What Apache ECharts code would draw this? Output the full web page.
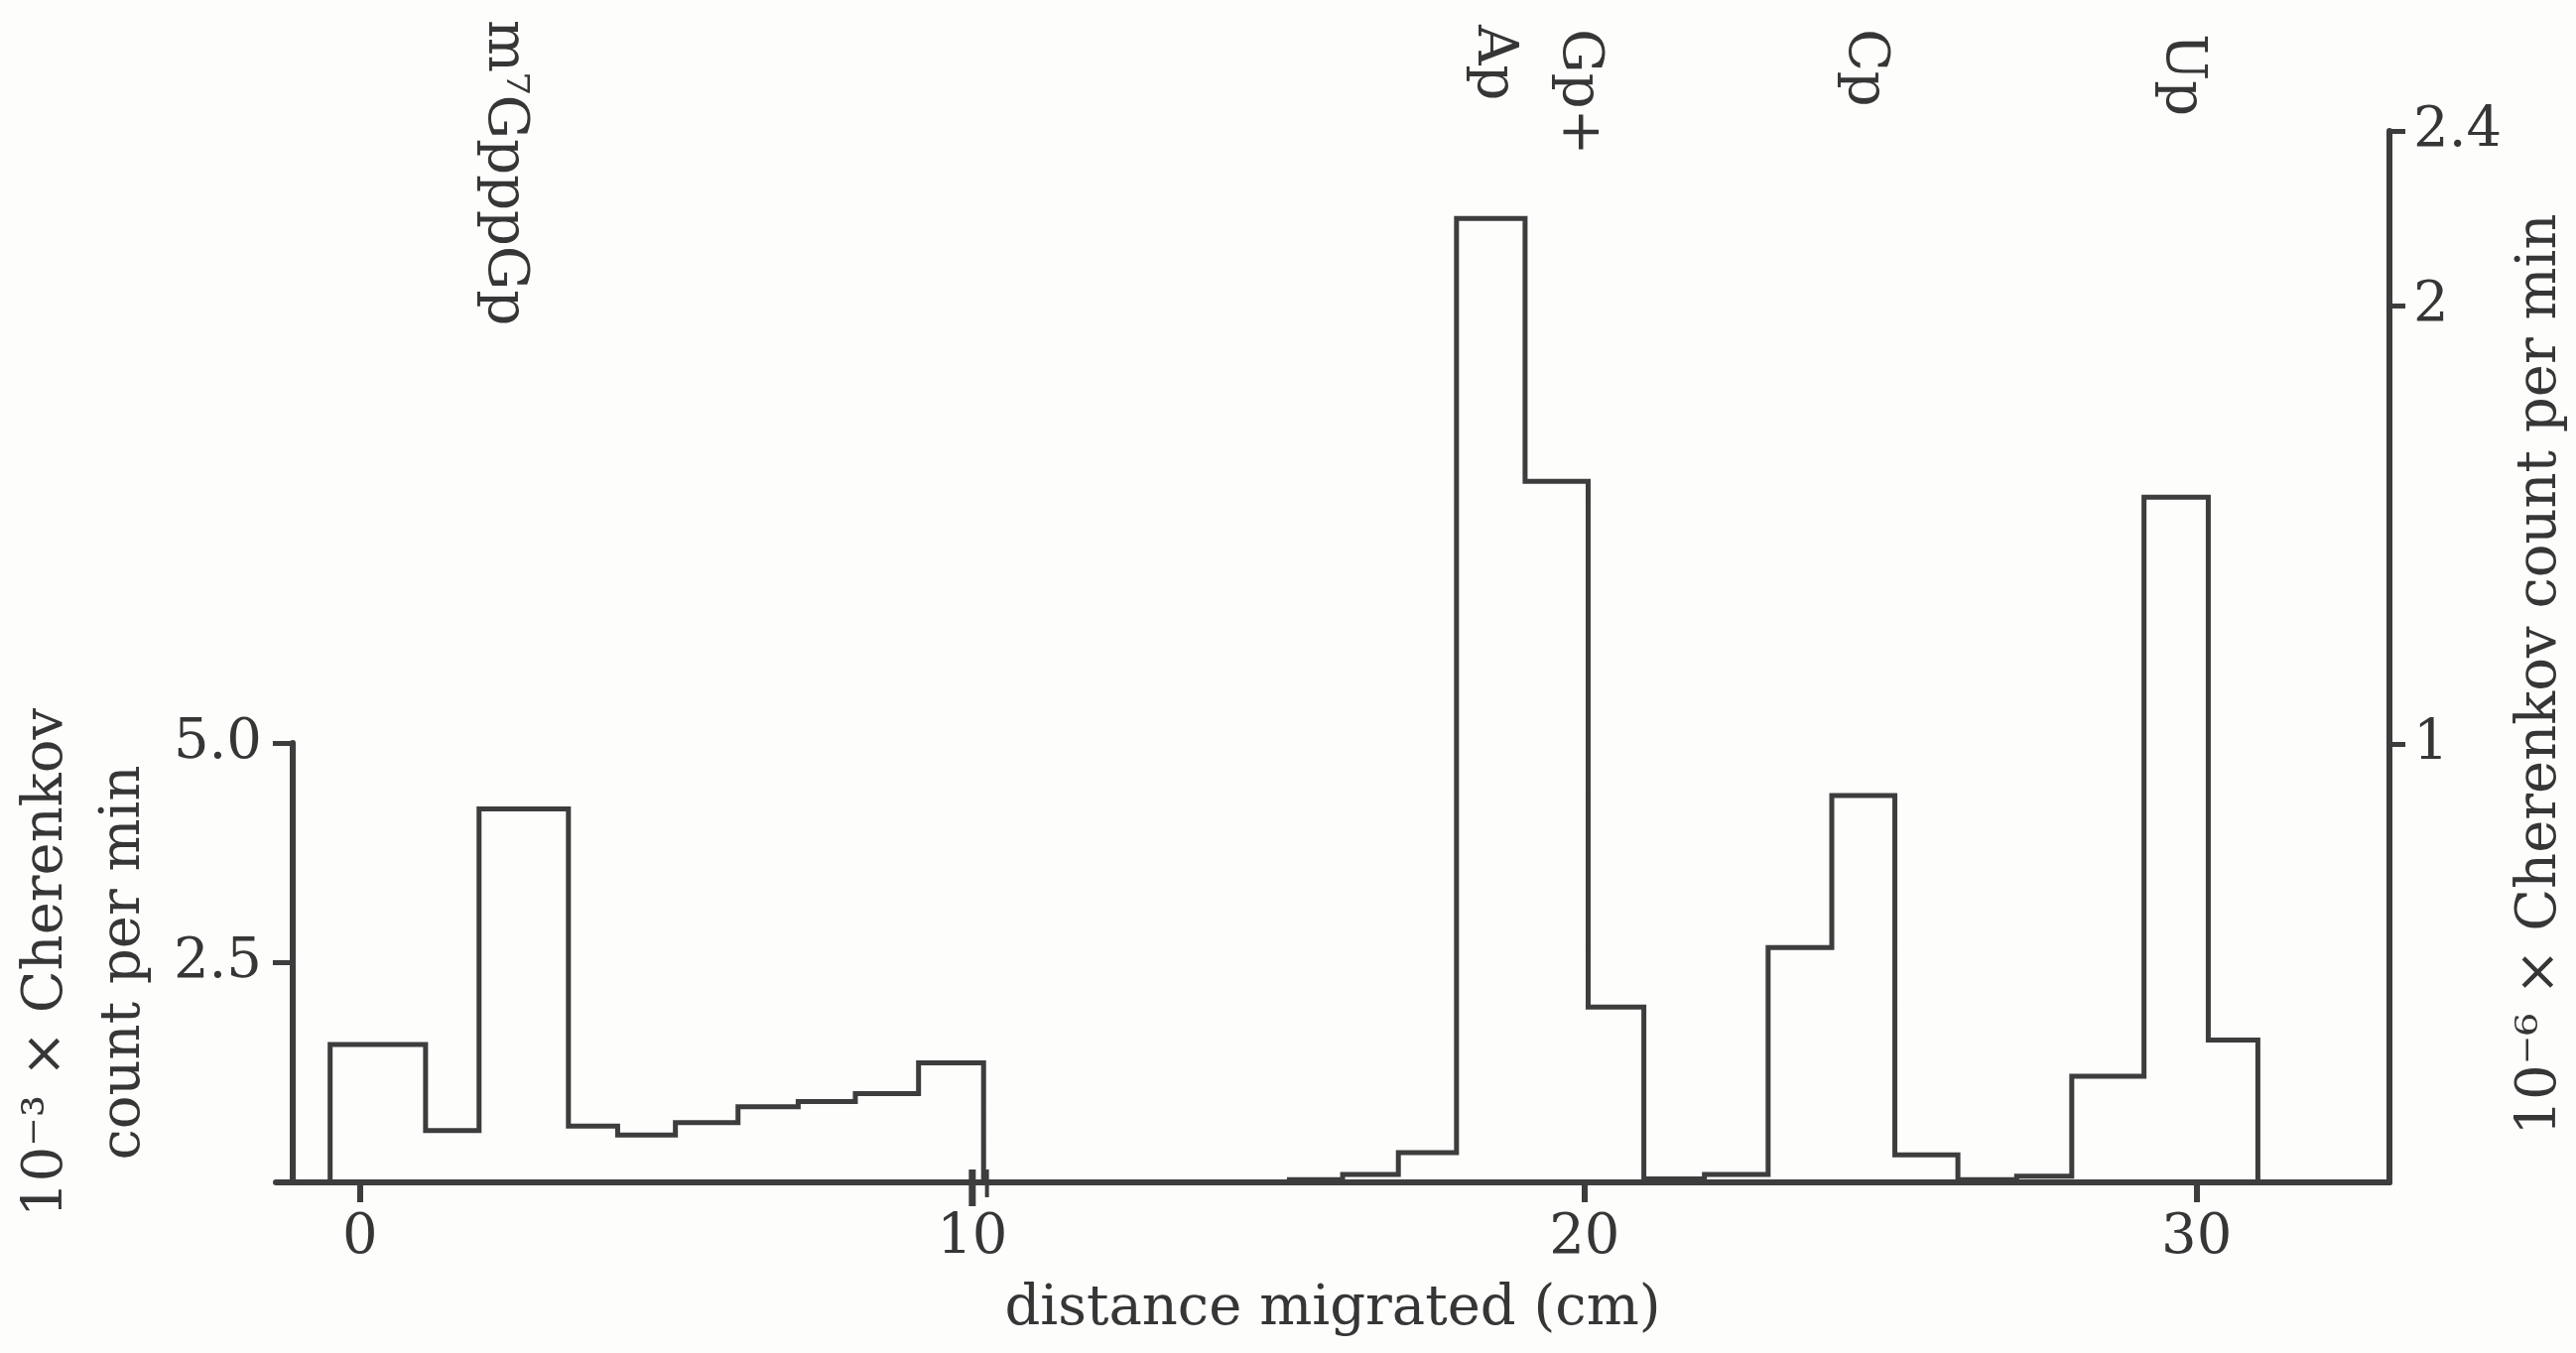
<!DOCTYPE html>
<html>
<head>
<meta charset="utf-8">
<script src="https://cdn.jsdelivr.net/npm/echarts@6/dist/echarts.min.js"></script>
<style>
  html, body { margin: 0; padding: 0; background: #fdfdfc; }
  #chart { width: 2596px; height: 1364px; }
</style>
</head>
<body>
<div id="chart"></div>
<script>
// ---------------- DATA ----------------
// Section edges (cm) and counts for the origin region, left scale (10^-3 x Cherenkov count per min)
const leftEdges  = [-0.76, 0.81, 1.69, 3.16, 3.97, 4.92, 5.95, 6.94, 7.88, 8.92, 9.99];
const leftCounts = [1.57, 0.59, 4.25, 0.64, 0.54, 0.68, 0.86, 0.92, 1.01, 1.36];
// Section edges (cm) and counts for the nucleotide region, right scale (10^-6 x Cherenkov count per min)
const rightEdges  = [15.18, 16.05, 16.96, 17.91, 19.03, 20.06, 20.97, 21.96, 23.0, 24.04, 25.07, 26.1, 27.06, 27.96, 29.14, 30.19, 31.0];
const rightCounts = [0.006, 0.018, 0.068, 2.20, 1.60, 0.40, 0.008, 0.018, 0.536, 0.883, 0.063, 0.006, 0.014, 0.242, 1.564, 0.325];
// Tick values
const xTicks = [0, 10, 20, 30];
const leftTicks = [2.5, 5.0];
const rightTicks = [1, 2, 2.4];
// Peak labels and their positions along the migration axis (cm)
const peakLabels = ['m\u2077GpppGp', 'Ap', 'Gp+', 'Cp', 'Up'];
const peakPositions = [2.35, 18.51, 19.90, 24.57, 29.75];

// ---------------- LAYOUT / STYLE ----------------
const FONT = "'DejaVu Serif', 'Liberation Serif', serif";
const INK = '#3d3d3d';
const TXT = '#363636';
const X_MIN = -1.376, X_MAX = 33.15;
const peakTopPx = [20, 25, 29, 29, 34];

function stepPoints(edges, counts) {
  const pts = [[edges[0], 0]];
  for (let i = 0; i < counts.length; i++) {
    pts.push([edges[i], counts[i]]);
    pts.push([edges[i + 1], counts[i]]);
  }
  pts.push([edges[edges.length - 1], 0]);
  return pts;
}

const chart = echarts.init(document.getElementById('chart'), null, { renderer: 'canvas' });

const labelStyle = { fontFamily: FONT, fontSize: 56, color: TXT };

chart.setOption({
  animation: false,
  backgroundColor: '#fdfdfc',
  grid: [
    { left: 278, right: 186, top: 132, bottom: 172 },
    { left: 278, right: 186, top: 749, bottom: 172 }
  ],
  xAxis: [
    {
      gridIndex: 0, type: 'value', min: X_MIN, max: X_MAX,
      axisLine: { show: true, onZero: false, lineStyle: { color: INK, width: 6 } },
      axisTick: { show: true, customValues: xTicks, length: 20, inside: false, lineStyle: { color: INK, width: 6 } },
      axisLabel: Object.assign({ customValues: xTicks, margin: 28 }, labelStyle),
      splitLine: { show: false },
      name: 'distance migrated (cm)', nameLocation: 'middle', nameGap: 100,
      nameTextStyle: { fontFamily: FONT, fontSize: 56, color: TXT }
    },
    {
      gridIndex: 1, type: 'value', min: X_MIN, max: X_MAX, show: false
    }
  ],
  yAxis: [
    {
      gridIndex: 0, type: 'value', position: 'right', min: 0, max: 2.4,
      axisLine: { show: true, onZero: false, lineStyle: { color: INK, width: 6 } },
      axisTick: { show: true, customValues: rightTicks, length: 16, inside: false, lineStyle: { color: INK, width: 5 } },
      axisLabel: Object.assign({ customValues: rightTicks, margin: 24, formatter: v => String(v) }, labelStyle),
      splitLine: { show: false },
      name: '10\u207B\u2076 \u00D7 Cherenkov count per min', nameLocation: 'middle', nameRotate: 90, nameGap: 108,
      nameTextStyle: { fontFamily: FONT, fontSize: 56, color: TXT, padding: [0, 36, 0, 0] }
    },
    {
      gridIndex: 1, type: 'value', position: 'left', min: 0, max: 5,
      axisLine: { show: true, onZero: false, lineStyle: { color: INK, width: 6 } },
      axisTick: { show: true, customValues: leftTicks, length: 20, inside: false, lineStyle: { color: INK, width: 5 } },
      axisLabel: Object.assign({ customValues: leftTicks, margin: 31, formatter: v => v.toFixed(1) }, labelStyle),
      splitLine: { show: false },
      name: '10\u207B\u00B3 \u00D7 Cherenkov\ncount per min', nameLocation: 'middle', nameRotate: 90, nameGap: 112,
      nameTextStyle: { fontFamily: FONT, fontSize: 56, color: TXT, lineHeight: 78, align: 'center' }
    }
  ],
  series: [
    {
      type: 'line', xAxisIndex: 1, yAxisIndex: 1, data: stepPoints(leftEdges, leftCounts),
      showSymbol: false, clip: false, silent: true,
      lineStyle: { color: INK, width: 5, join: 'miter' }
    },
    {
      type: 'line', xAxisIndex: 0, yAxisIndex: 0, data: stepPoints(rightEdges, rightCounts),
      showSymbol: false, clip: false, silent: true,
      lineStyle: { color: INK, width: 5, join: 'miter' }
    }
  ]
});

// Axis break marks at 10 cm and rotated peak labels, positioned via the axis scale
const xPx = v => chart.convertToPixel({ xAxisIndex: 0 }, v);
const yBase = chart.convertToPixel({ yAxisIndex: 0 }, 0);
const graphics = [
  { type: 'line', shape: { x1: xPx(10), y1: yBase - 13, x2: xPx(10), y2: yBase + 24 }, style: { stroke: INK, lineWidth: 7 }, z: 100 },
  { type: 'line', shape: { x1: xPx(10.24), y1: yBase - 13, x2: xPx(10.24), y2: yBase + 15 }, style: { stroke: INK, lineWidth: 4 }, z: 100 }
];
peakLabels.forEach((t, i) => {
  graphics.push({
    type: 'text', x: xPx(peakPositions[i]), y: peakTopPx[i], rotation: -Math.PI / 2,
    style: { text: t, fontFamily: FONT, fontSize: 56, fill: TXT, align: 'left', verticalAlign: 'middle' },
    z: 100
  });
});
chart.setOption({ graphic: graphics });
</script>
</body>
</html>
